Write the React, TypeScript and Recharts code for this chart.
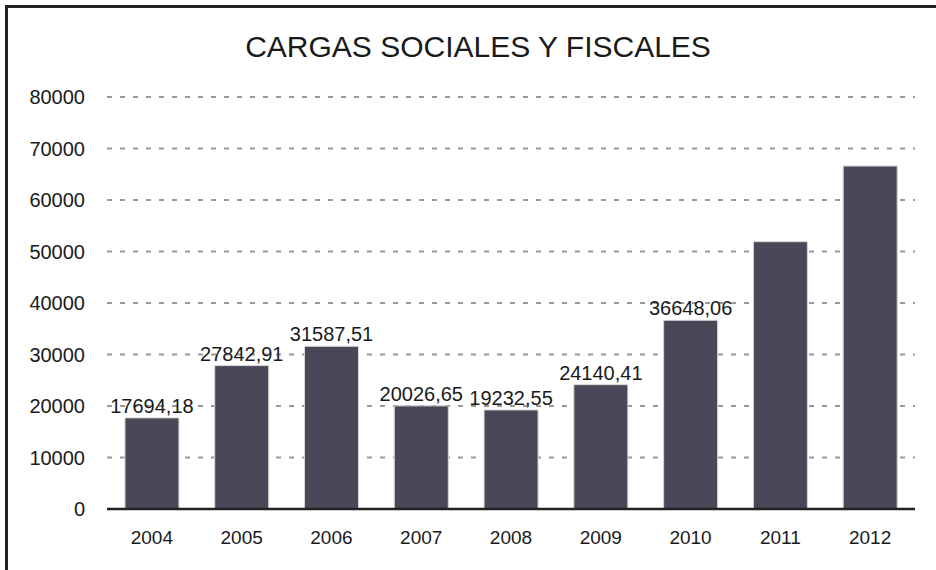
import { Bar, BarChart, CartesianGrid, LabelList, XAxis, YAxis } from "recharts";

const YEARS = ["2004", "2005", "2006", "2007", "2008", "2009", "2010", "2011", "2012"];
const CARGAS = [17694.18, 27842.91, 31587.51, 20026.65, 19232.55, 24140.41, 36648.06, 51900, 66600];
// only the first seven bars carry a value label in the original
const LABELS = ["17694,18", "27842,91", "31587,51", "20026,65", "19232,55", "24140,41", "36648,06", null, null];
const Y_TICKS = [0, 10000, 20000, 30000, 40000, 50000, 60000, 70000, 80000];

const data = YEARS.map((year, i) => ({ year, value: CARGAS[i], label: LABELS[i] }));

const FONT = '"Liberation Sans", Arial, sans-serif';
const BAR_COLOR = "#4b4759";
const INK = "#1a1a1a";

function ValueLabel(props: any) {
  const { x, y, width, value } = props;
  if (value == null) return null;
  return (
    <text x={x + width / 2} y={y - 5} textAnchor="middle" fontSize={20} fontFamily={FONT} fill={INK}>
      {value}
    </text>
  );
}

export default function App() {
  return (
    <div style={{ position: "absolute", left: 0, top: 0, width: 936, height: 570, background: "#fff" }}>
      <div
        style={{
          position: "absolute",
          left: 0,
          top: 30,
          width: 956,
          textAlign: "center",
          fontFamily: FONT,
          fontSize: 30,
          color: INK,
        }}
      >
        CARGAS SOCIALES Y FISCALES
      </div>
      <div style={{ position: "absolute", left: 0, top: 0 }}>
        <BarChart
          width={936}
          height={570}
          data={data}
          margin={{ top: 97, right: 21, bottom: 31, left: 0 }}
          barCategoryGap="20%"
        >
          <CartesianGrid vertical={false} stroke="#999" strokeWidth={2} strokeDasharray="5 8" />
          <XAxis
            dataKey="year"
            height={30}
            tickLine={false}
            tickSize={0}
            tickMargin={22}
            axisLine={{ stroke: "#222", strokeWidth: 2.5 }}
            tick={{ fontSize: 19, fontFamily: FONT, fill: INK }}
          />
          <YAxis
            width={107}
            domain={[0, 80000]}
            ticks={Y_TICKS}
            interval={0}
            axisLine={false}
            tickLine={false}
            tickSize={0}
            tickMargin={22}
            tick={{ fontSize: 20, fontFamily: FONT, fill: INK }}
          />
          <Bar dataKey="value" fill={BAR_COLOR} stroke="#d8d8d8" strokeWidth={1} isAnimationActive={false}>
            <LabelList dataKey="label" content={ValueLabel} />
          </Bar>
        </BarChart>
      </div>
      <div
        style={{
          position: "absolute",
          left: 5,
          top: 5,
          width: 931,
          height: 565,
          boxSizing: "border-box",
          borderLeft: "3px solid #222",
          borderTop: "3px solid #222",
          pointerEvents: "none",
        }}
      />
    </div>
  );
}
